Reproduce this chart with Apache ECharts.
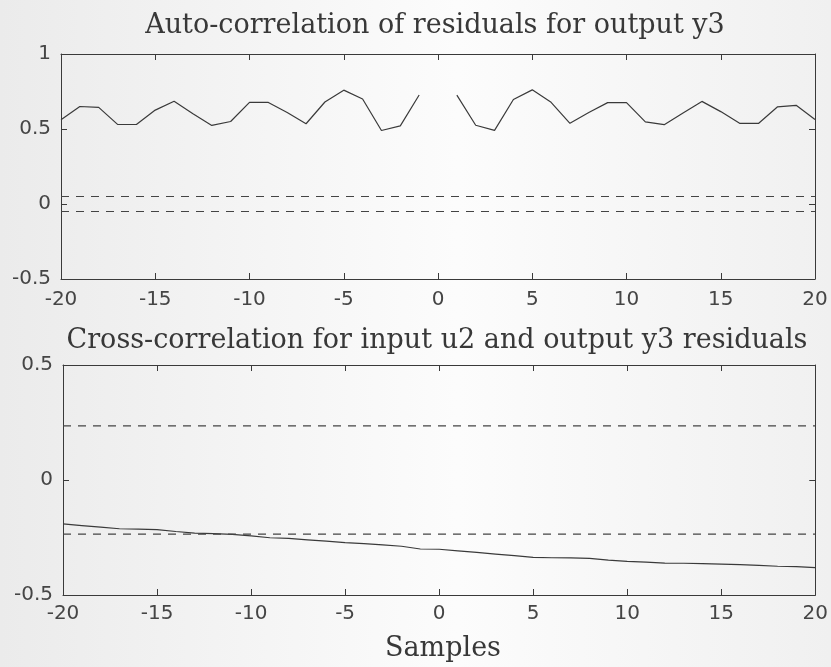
<!DOCTYPE html>
<html>
<head>
<meta charset="utf-8">
<script src="https://cdn.jsdelivr.net/npm/echarts@6/dist/echarts.min.js"></script>
<style>
  html, body { margin: 0; padding: 0; }
  #chart { width: 831px; height: 667px; }
</style>
</head>
<body>
<div id="chart"></div>
<script>
// lags -20..20
const lags = [];
for (let k = -20; k <= 20; k++) lags.push(k);

// auto-correlation of residuals, y3 (lag 0 left out, as in the plot)
const autoCorr = [
  0.562, 0.650, 0.644, 0.531, 0.530, 0.626, 0.685, 0.602, 0.524, 0.550,
  0.677, 0.677, 0.610, 0.535, 0.680, 0.759, 0.700, 0.490, 0.521, 0.727,
  null,
  0.726, 0.525, 0.491, 0.697, 0.761, 0.678, 0.538, 0.610, 0.676, 0.676,
  0.548, 0.529, 0.607, 0.684, 0.616, 0.538, 0.537, 0.647, 0.658, 0.564
];
// cross-correlation u2 / y3 residuals
const crossCorr = [
  -0.191, -0.198, -0.205, -0.212, -0.214, -0.216, -0.224, -0.231, -0.233, -0.236,
  -0.243, -0.251, -0.254, -0.260, -0.266, -0.272, -0.277, -0.282, -0.288, -0.300,
  -0.301,
  -0.308, -0.315, -0.322, -0.329, -0.336, -0.338, -0.339, -0.341, -0.348, -0.354,
  -0.357, -0.361, -0.362, -0.364, -0.366, -0.368, -0.371, -0.375, -0.377, -0.381
];
// confidence bounds (dashed)
const autoBound = [0.05, -0.05];
const crossBound = [0.235, -0.235];
const boundRange = [-20, 20];

const xTicks = { min: -20, max: 20, interval: 5 };
const yTicksTop = { min: -0.5, max: 1, interval: 0.5 };
const yTicksBottom = { min: -0.5, max: 0.5, interval: 0.5 };

const titles = [
  "Auto-correlation of residuals for output y3",
  "Cross-correlation for input u2 and output y3 residuals"
];
const xName = "Samples";

const lineColor = "#3a3a3a";
const labelStyle = { fontFamily: "DejaVu Sans", fontSize: 20, color: "#454545" };
const titleStyle = { fontFamily: "DejaVu Serif", fontSize: 27, fontWeight: "normal", color: "#383838" };

function pairs(xs, ys) {
  return xs.map((x, i) => [x, ys[i]]);
}
function boundLine(v) {
  return boundRange.map(x => [x, v]);
}

function xAxes(gi, margin) {
  const base = {
    type: "value", gridIndex: gi,
    min: xTicks.min, max: xTicks.max, interval: xTicks.interval,
    axisLine: { onZero: false, lineStyle: { color: lineColor, width: 1 } },
    axisTick: { inside: true, length: 6, lineStyle: { color: lineColor } },
    splitLine: { show: false }
  };
  return [
    Object.assign({}, base, { position: "bottom", axisLabel: Object.assign({ margin: margin }, labelStyle) }),
    Object.assign({}, base, { position: "top", axisLabel: { show: false } })
  ];
}
function yAxes(gi, t) {
  const base = {
    type: "value", gridIndex: gi,
    min: t.min, max: t.max, interval: t.interval,
    axisLine: { onZero: false, lineStyle: { color: lineColor, width: 1 } },
    axisTick: { inside: true, length: 6, lineStyle: { color: lineColor } },
    splitLine: { show: false }
  };
  return [
    Object.assign({}, base, { position: "left", axisLabel: Object.assign({ margin: 10 }, labelStyle) }),
    Object.assign({}, base, { position: "right", axisLabel: { show: false } })
  ];
}

const chart = echarts.init(document.getElementById("chart"));
chart.setOption({
  animation: false,
  backgroundColor: {
    type: "linear", x: 0, y: 0, x2: 1, y2: 0,
    colorStops: [
      { offset: 0, color: "#ebebeb" },
      { offset: 0.55, color: "#fcfcfc" },
      { offset: 1, color: "#f0f0f0" }
    ]
  },
  title: [
    { text: titles[0], left: 430, top: 7, textAlign: "center", textStyle: titleStyle },
    { text: titles[1], left: 432, top: 322, textAlign: "center", textStyle: titleStyle },
    { text: xName, left: 438, top: 630, textAlign: "center", textStyle: titleStyle }
  ],
  grid: [
    { left: 61, width: 754, top: 54, height: 225 },
    { left: 63, width: 753, top: 365, height: 230 }
  ],
  xAxis: xAxes(0, 11).concat(xAxes(1, 9)),
  yAxis: yAxes(0, yTicksTop).concat(yAxes(1, yTicksBottom)),
  series: [
    { type: "line", xAxisIndex: 0, yAxisIndex: 0, data: pairs(lags, autoCorr),
      showSymbol: false, connectNulls: false,
      lineStyle: { color: lineColor, width: 1.2 } },
    { type: "line", xAxisIndex: 0, yAxisIndex: 0, data: boundLine(autoBound[0]),
      showSymbol: false, lineStyle: { color: "#444", width: 1.2, type: [8, 7] } },
    { type: "line", xAxisIndex: 0, yAxisIndex: 0, data: boundLine(autoBound[1]),
      showSymbol: false, lineStyle: { color: "#444", width: 1.2, type: [8, 7] } },
    { type: "line", xAxisIndex: 2, yAxisIndex: 2, data: pairs(lags, crossCorr),
      showSymbol: false,
      lineStyle: { color: lineColor, width: 1.2 } },
    { type: "line", xAxisIndex: 2, yAxisIndex: 2, data: boundLine(crossBound[0]),
      showSymbol: false, lineStyle: { color: "#444", width: 1.2, type: [8, 7] } },
    { type: "line", xAxisIndex: 2, yAxisIndex: 2, data: boundLine(crossBound[1]),
      showSymbol: false, lineStyle: { color: "#444", width: 1.2, type: [8, 7] } }
  ]
});
</script>
</body>
</html>
